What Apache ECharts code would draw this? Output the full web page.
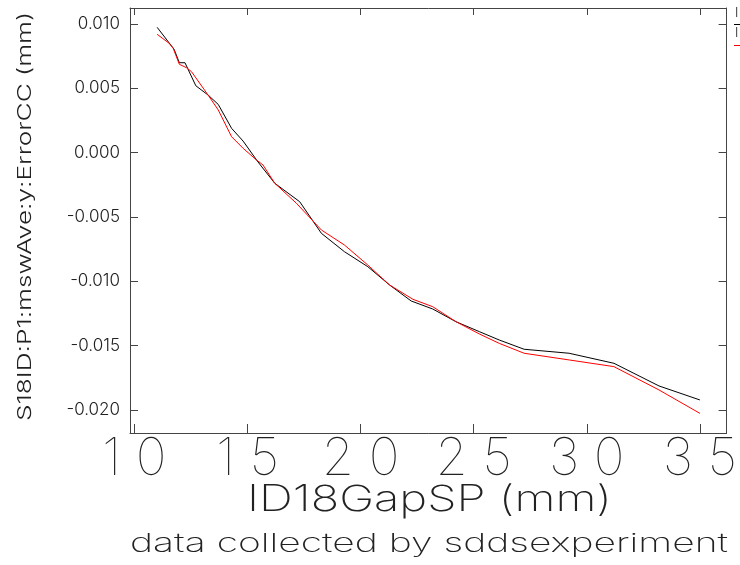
<!DOCTYPE html>
<html>
<head>
<meta charset="utf-8">
<script src="https://cdn.jsdelivr.net/npm/echarts@6/dist/echarts.min.js"></script>
<style>
html,body{margin:0;padding:0;background:#fff;}
#chart{width:740px;height:565px;}
</style>
</head>
<body>
<div id="chart"></div>
<script>
// ---- data ----
const gapBlack = [11.01, 11.76, 11.99, 12.24, 12.72, 13.26, 13.71, 14.30, 14.81, 15.47, 16.21, 17.31, 18.27, 19.29, 20.32, 21.28, 22.24, 23.19, 24.22, 25.25, 26.13, 27.23, 29.22, 31.20, 33.19, 35.00];
const errBlack = [0.00974, 0.00803, 0.00699, 0.00699, 0.00520, 0.00448, 0.00375, 0.00189, 0.00090, -0.00073, -0.00238, -0.00381, -0.00627, -0.00770, -0.00886, -0.01028, -0.01153, -0.01215, -0.01314, -0.01391, -0.01456, -0.01528, -0.01559, -0.01637, -0.01813, -0.01922];
const gapRed = [11.01, 11.54, 11.72, 11.99, 12.31, 12.53, 13.26, 13.71, 14.30, 14.81, 15.40, 15.69, 16.21, 17.17, 18.27, 19.29, 20.32, 21.28, 22.32, 23.19, 24.22, 25.25, 26.13, 27.23, 29.22, 31.20, 33.19, 35.00];
const errRed = [0.00920, 0.00850, 0.00811, 0.00687, 0.00660, 0.00629, 0.00448, 0.00332, 0.00124, 0.00034, -0.00057, -0.00096, -0.00238, -0.00394, -0.00601, -0.00718, -0.00873, -0.01028, -0.01140, -0.01197, -0.01314, -0.01409, -0.01482, -0.01559, -0.01611, -0.01663, -0.01844, -0.02026];
const xTicks = [10, 15, 20, 25, 30, 35];
const yTicks = [-0.020, -0.015, -0.010, -0.005, 0.000, 0.005, 0.010];
const xTitle = 'ID18GapSP (mm)';
const yTitle = 'S18ID:P1:mswAve:y:ErrorCC (mm)';
const footer = 'data collected by sddsexperiment';

const pair = (xs, ys) => xs.map((x, i) => [x, ys[i]]);

const THIN = 'Inter, "DejaVu Sans", sans-serif';
const TXT = '#222';
const frameLine = { show: true, onZero: false, lineStyle: { color: '#444', width: 1 } };
const X_MIN = 9.81, X_MAX = 36.18, Y_MIN = -0.021788, Y_MAX = 0.011243;

// measure helper to stretch thin text horizontally to the reference extent
const mctx = document.createElement('canvas').getContext('2d');
function stretch(text, font, width) {
  mctx.font = font;
  return width / mctx.measureText(text).width;
}
const fTitleX = '200 36px ' + THIN;
const fTitleY = '300 19px ' + THIN;
const fFooter = '200 26px ' + THIN;

const chart = echarts.init(document.getElementById('chart'), null, { renderer: 'canvas' });
chart.setOption({
  animation: false,
  backgroundColor: '#fff',
  grid: { left: 130, right: 12, top: 8, bottom: 132, containLabel: false },
  xAxis: [{
    type: 'value', position: 'bottom', min: X_MIN, max: X_MAX,
    axisLine: frameLine, splitLine: { show: false },
    axisTick: { inside: true, length: 9, customValues: xTicks, lineStyle: { color: '#444' } },
    axisLabel: {
      customValues: xTicks, margin: 0,
      formatter: v => String(Math.round(v)).split('').join(' '),
      fontFamily: 'Inter', fontWeight: 100, fontSize: 52, color: TXT, lineHeight: 52
    }
  }, {
    type: 'value', position: 'top', min: X_MIN, max: X_MAX,
    axisLine: frameLine, splitLine: { show: false },
    axisTick: { inside: true, length: 7, customValues: xTicks, lineStyle: { color: '#444' } },
    axisLabel: { show: false }
  }],
  yAxis: [{
    type: 'value', position: 'left', min: Y_MIN, max: Y_MAX,
    axisLine: frameLine, splitLine: { show: false },
    axisTick: { inside: true, length: 8, customValues: yTicks, lineStyle: { color: '#444' } },
    axisLabel: {
      customValues: yTicks, margin: 10,
      formatter: v => v.toFixed(3),
      fontFamily: 'Inter', fontWeight: 300, fontSize: 17, color: TXT, padding: [0, 0, 6, 0]
    }
  }, {
    type: 'value', position: 'right', min: Y_MIN, max: Y_MAX,
    axisLine: frameLine, splitLine: { show: false },
    axisTick: { inside: true, length: 8, customValues: yTicks, lineStyle: { color: '#444' } },
    axisLabel: { show: false }
  }],
  series: [{
    type: 'line', name: 'black', xAxisIndex: 0, yAxisIndex: 0,
    data: pair(gapBlack, errBlack), showSymbol: false, symbol: 'none',
    lineStyle: { color: '#000', width: 1 }, z: 3
  }, {
    type: 'line', name: 'red', xAxisIndex: 0, yAxisIndex: 0,
    data: pair(gapRed, errRed), showSymbol: false, symbol: 'none',
    lineStyle: { color: '#ff0000', width: 1 }, z: 4
  }],
  graphic: [
    { type: 'text', x: 247, y: 500, scaleX: stretch(xTitle, fTitleX, 365),
      style: { text: xTitle, font: fTitleX, fill: TXT, textAlign: 'left', textVerticalAlign: 'middle' } },
    { type: 'text', x: 25, y: 421, rotation: Math.PI / 2, scaleX: stretch(yTitle, fTitleY, 409),
      style: { text: yTitle, font: fTitleY, fill: TXT, textAlign: 'left', textVerticalAlign: 'middle' } },
    { type: 'text', x: 130, y: 544, scaleX: stretch(footer, fFooter, 598),
      style: { text: footer, font: fFooter, fill: TXT, textAlign: 'left', textVerticalAlign: 'middle' } },
    { type: 'text', x: 735, y: 7, style: { text: 'I', font: '300 13px ' + THIN, fill: TXT } },
    { type: 'line', shape: { x1: 734, y1: 24.5, x2: 740, y2: 24.5 }, style: { stroke: '#000', lineWidth: 1 } },
    { type: 'text', x: 735, y: 27, style: { text: 'I', font: '300 13px ' + THIN, fill: TXT } },
    { type: 'line', shape: { x1: 734, y1: 45.5, x2: 740, y2: 45.5 }, style: { stroke: '#ff0000', lineWidth: 1 } }
  ]
});
</script>
</body>
</html>
